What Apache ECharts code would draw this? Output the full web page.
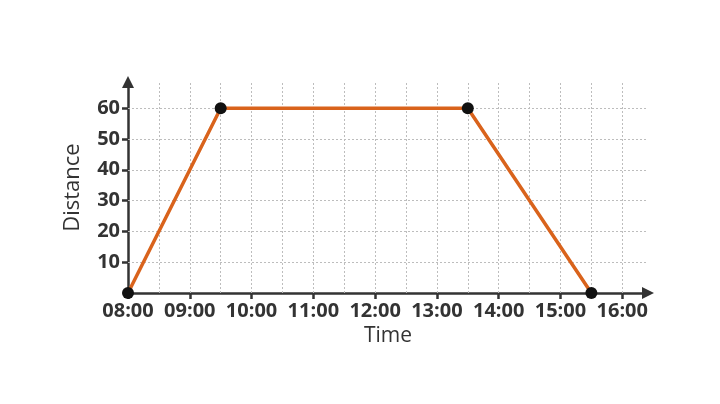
<!DOCTYPE html>
<html>
<head>
<meta charset="utf-8">
<script src="https://cdn.jsdelivr.net/npm/echarts@6/dist/echarts.min.js"></script>
<style>
  html, body { margin: 0; padding: 0; background: #fff; }
  #main { width: 720px; height: 404px; }
</style>
</head>
<body>
<div id="main"></div>
<script>
// journey: time of day -> distance
var times = ['08:00', '09:30', '13:30', '15:30'];
var distance = [0, 60, 60, 0];

// tick labels / grid
var hourTicks = ['08:00', '09:00', '10:00', '11:00', '12:00', '13:00', '14:00', '15:00', '16:00'];
var yTicks = [10, 20, 30, 40, 50, 60];
var xGridMinutes = [510, 540, 570, 600, 630, 660, 690, 720, 750, 780, 810, 840, 870, 900, 930, 960];

function toMin(t) {
  var p = t.split(':');
  return (+p[0]) * 60 + (+p[1]);
}
function pad(n) { return n < 10 ? '0' + n : '' + n; }

var myChart = echarts.init(document.getElementById('main'));

var data = [];
for (var i = 0; i < times.length; i++) {
  data.push([toMin(times[i]), distance[i]]);
}
var hourValues = hourTicks.map(toMin);

var gridStyle = { color: '#bdbdbd', width: 1, type: [2, 2] };
var markData = [];
xGridMinutes.forEach(function (v) { markData.push({ xAxis: v }); });
yTicks.forEach(function (v) { markData.push({ yAxis: v }); });

var font = '"Open Sans", "Noto Sans", sans-serif';

var option = {
  backgroundColor: '#fff',
  animation: false,
  grid: { left: 128, right: 72, top: 82, bottom: 111 },
  xAxis: {
    type: 'value',
    min: 480,
    max: 985,
    interval: 60,
    name: 'Time',
    nameLocation: 'middle',
    nameGap: 30,
    nameTextStyle: { fontFamily: font, fontSize: 21, color: '#333' },
    axisLine: {
      show: true,
      symbol: ['none', 'triangle'],
      symbolSize: [12, 12],
      lineStyle: { color: '#333', width: 2.5 }
    },
    axisTick: { show: true, length: 6, customValues: hourValues, lineStyle: { color: '#333', width: 2.5 } },
    axisLabel: {
      customValues: hourValues,
      margin: 8,
      fontFamily: font, fontWeight: 'bold', fontSize: 20, color: '#333',
      formatter: function (v) { return v % 60 === 0 ? pad(v / 60) + ':00' : ''; }
    },
    splitLine: { show: false }
  },
  yAxis: {
    type: 'value',
    min: 0,
    max: 68.5,
    interval: 10,
    name: 'Distance',
    nameLocation: 'middle',
    nameGap: 44,
    nameTextStyle: { fontFamily: font, fontSize: 22, color: '#333' },
    axisLine: {
      show: true,
      symbol: ['none', 'triangle'],
      symbolSize: [12, 12],
      lineStyle: { color: '#333', width: 2.5 }
    },
    axisTick: { show: true, length: 6, customValues: yTicks, lineStyle: { color: '#333', width: 2.5 } },
    axisLabel: {
      customValues: yTicks,
      margin: 8,
      fontFamily: font, fontWeight: 'bold', fontSize: 20, color: '#333'
    },
    splitLine: { show: false }
  },
  series: [{
    type: 'line',
    data: data,
    z: 3,
    symbol: 'circle',
    symbolSize: 12,
    itemStyle: { color: '#111' },
    lineStyle: { color: '#d9631c', width: 3.5 },
    markLine: {
      silent: true,
      symbol: ['none', 'none'],
      label: { show: false },
      lineStyle: gridStyle,
      z: 1,
      data: markData
    }
  }]
};

myChart.setOption(option);
</script>
</body>
</html>
